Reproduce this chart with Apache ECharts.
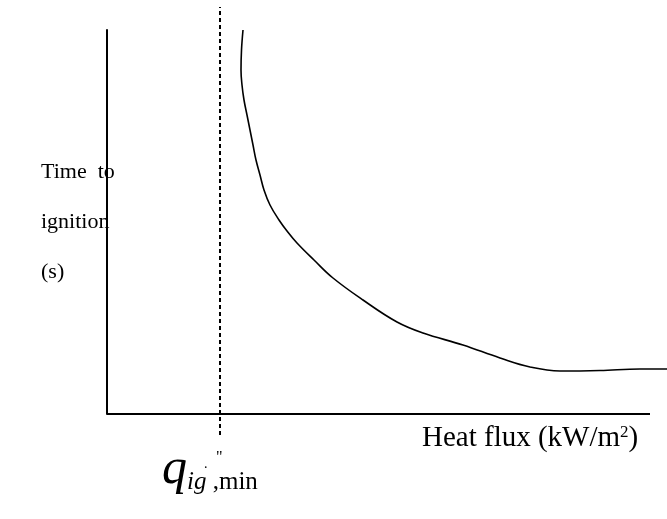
<!DOCTYPE html>
<html>
<head>
<meta charset="utf-8">
<script src="https://cdn.jsdelivr.net/npm/echarts@6/dist/echarts.min.js"></script>
<style>html,body{margin:0;padding:0;background:#fff}#c{width:667px;height:519px}</style>
</head>
<body>
<div id="c"></div>
<script>
// Schematic values (arbitrary units)
const curveX = [136,134.5,134,135,137,140,143,146,149,153,157,163,172,180,190,207,226,256,290,316,356,393,423,453,493,533,560];
const curveY = [384,364,344,329,314,299,284,269,254,239,224,209,194,183,171,154,136,114,92,81,69,56,47,43,43.5,45,45];
const qMin = 113;            // minimum heat flux for ignition
const qMinLineY = [-21, 407];
const xAxisEnd = 543;
const xRange = [0, 560];
const yRange = [0, 384];
const yLabelLines = ['Time  to', 'ignition', '(s)'];
const xLabelParts = ['Heat flux (kW/m', '2', ')'];

const font = '"Liberation Serif", "Times New Roman", serif';
const chart = echarts.init(document.getElementById('c'));
const hidden = { axisLine: { show: false }, axisTick: { show: false }, axisLabel: { show: false }, splitLine: { show: false } };
chart.setOption({
  animation: false,
  backgroundColor: '#fff',
  grid: { left: 107, right: 0, top: 30, bottom: 105, outerBoundsMode: 'none' },
  xAxis: Object.assign({ type: 'value', min: xRange[0], max: xRange[1] }, hidden),
  yAxis: Object.assign({ type: 'value', min: yRange[0], max: yRange[1] }, hidden,
    { axisLine: { show: true, onZero: false, lineStyle: { color: '#000', width: 2 } } }),
  series: [
    {
      type: 'line', symbol: 'none', clip: false, silent: true,
      lineStyle: { color: '#000', width: 2 },
      data: [[xRange[0], yRange[0]], [xAxisEnd, yRange[0]]]
    },
    {
      type: 'line', smooth: 0.4, symbol: 'none', clip: false,
      lineStyle: { color: '#000', width: 1.6 },
      data: curveX.map((x, i) => [x, curveY[i]])
    },
    {
      type: 'line', symbol: 'none', clip: false,
      lineStyle: { color: '#000', width: 2, type: [4, 3] },
      data: qMinLineY.map(y => [qMin, y])
    }
  ],
  graphic: [
    ...yLabelLines.map((t, i) => ({
      type: 'text', left: 41, top: 161 + i * 50,
      style: { text: t, font: '22px ' + font, fill: '#000' }
    })),
    {
      type: 'text', left: 422, top: 424,
      style: {
        text: '{a|' + xLabelParts[0] + '}{s|' + xLabelParts[1] + '}{a|' + xLabelParts[2] + '}', fill: '#000',
        rich: {
          a: { fontFamily: font, fontSize: 29, verticalAlign: 'bottom' },
          s: { fontFamily: font, fontSize: 17, verticalAlign: 'top' }
        }
      }
    },
    { type: 'text', left: 216, top: 450, style: { text: '"', font: '16px ' + font, fill: '#000' } },
    { type: 'text', left: 204, top: 457, style: { text: '.', font: '14px ' + font, fill: '#000' } },
    {
      type: 'text', left: 162, top: 445,
      style: {
        text: '{q|q}{s|ig}{m| ,min}', fill: '#000',
        rich: {
          q: { fontFamily: font, fontSize: 50, fontStyle: 'italic', verticalAlign: 'bottom' },
          s: { fontFamily: font, fontSize: 25, fontStyle: 'italic', verticalAlign: 'bottom' },
          m: { fontFamily: font, fontSize: 25, verticalAlign: 'bottom' }
        }
      }
    }
  ]
});
</script>
</body>
</html>
